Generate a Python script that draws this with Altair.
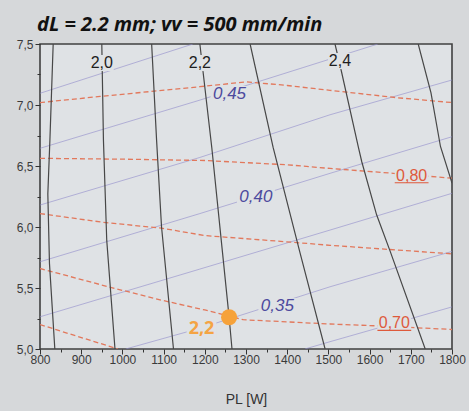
import altair as alt
import pandas as pd

# ---- solid contours (dark), level -> polyline in (PL [W], y) ----
black_levels = [1.9, 2.0, 2.1, 2.2, 2.3, 2.4, 2.5]
black_x = [
    [832, 824, 819, 823, 836],
    [950, 954, 962, 982],
    [1071, 1083, 1095, 1124],
    [1188, 1217, 1243, 1259, 1266],
    [1310, 1366, 1431, 1492],
    [1516, 1528, 1573, 1581, 1617, 1650, 1735],
    [1718, 1749, 1772, 1800],
]
black_y = [
    [7.5, 6.71, 6.27, 5.70, 5.0],
    [7.5, 6.71, 5.89, 5.0],
    [7.5, 6.71, 6.00, 5.0],
    [7.5, 6.65, 5.79, 5.26, 5.0],
    [7.5, 6.65, 5.79, 5.0],
    [7.5, 7.33, 6.65, 6.535, 6.10, 5.80, 5.0],
    [7.5, 7.10, 6.66, 6.36],
]

# ---- thin contours (blue) ----
blue_levels = [0.475, 0.45, 0.425, 0.40, 0.375, 0.35, 0.325]
blue_x = [
    [800, 1171],
    [800, 1188, 1620],
    [800, 1188, 1504, 1800],
    [800, 1188, 1504, 1800],
    [800, 1188, 1504, 1800],
    [1008, 1188, 1504, 1800],
    [1443, 1504, 1800],
]
blue_y = [
    [7.096, 7.5],
    [6.645, 7.04, 7.5],
    [6.18, 6.57, 6.92, 7.205],
    [5.715, 6.11, 6.44, 6.74],
    [5.264, 5.655, 5.975, 6.276],
    [5.0, 5.17, 5.51, 5.80],
    [5.0, 5.06, 5.345],
]

# ---- dashed contours (red) ----
red_levels = [0.85, 0.80, 0.75, 0.70, 0.65]
red_x = [
    [800, 946, 1188, 1302, 1400, 1504, 1666, 1800],
    [800, 1000, 1200, 1400, 1504, 1657, 1800],
    [800, 950, 1095, 1200, 1431, 1504, 1800],
    [800, 966, 1095, 1200, 1260, 1293, 1504, 1617, 1800],
    [800, 989],
]
red_y = [
    [7.02, 7.07, 7.15, 7.19, 7.16, 7.12, 7.06, 7.02],
    [6.563, 6.556, 6.545, 6.51, 6.48, 6.44, 6.40],
    [6.11, 6.04, 5.99, 5.93, 5.87, 5.85, 5.78],
    [5.66, 5.51, 5.40, 5.32, 5.27, 5.24, 5.205, 5.19, 5.16],
    [5.20, 5.0],
]

# ---- contour labels ----
black_lab_text = ["2,0", "2,2", "2,4"]
black_lab_x = [950, 1188, 1528]
black_lab_y = [7.344, 7.344, 7.36]

blue_lab_text = ["0,45", "0,40", "0,35"]
blue_lab_x = [1260, 1324, 1376]
blue_lab_y = [7.09, 6.25, 5.35]

red_lab_text = ["0,80", "0,70"]
red_lab_x = [1702, 1660]
red_lab_y = [6.42, 5.21]

# ---- operating point ----
pt_x = [1259]
pt_y = [5.26]
pt_text = ["2,2"]
pt_lab_x = [1192]
pt_lab_y = [5.16]

x_ticks = list(range(800, 1801, 50))
y_ticks = [5.0 + 0.25 * k for k in range(11)]

BG = "#d6d8da"
PLOT_BG = "#dfe2e5"


def lines_frame(levels, xs, ys):
    rows = []
    for lev, xr, yr in zip(levels, xs, ys):
        for i, (x, y) in enumerate(zip(xr, yr)):
            rows.append({"level": lev, "i": i, "PL": x, "v": y})
    return pd.DataFrame(rows)


def labels_frame(texts, xs, ys, half_w, half_h):
    df = pd.DataFrame({"t": texts, "PL": xs, "v": ys})
    df["x0"] = df["PL"] - half_w
    df["x1"] = df["PL"] + half_w
    df["y0"] = df["v"] - half_h
    df["y1"] = df["v"] + half_h
    return df


xscale = alt.Scale(domain=[800, 1800], nice=False, zero=False)
yscale = alt.Scale(domain=[5.0, 7.5], nice=False, zero=False)

x_axis = alt.Axis(
    values=x_ticks,
    title="PL [W]",
    titleFont="Liberation Sans",
    titleFontSize=14,
    titleFontWeight="normal",
    titleColor="#333333",
    titlePadding=27,
    labelExpr="datum.value % 100 === 0 ? datum.label : ''",
    labelFont="Liberation Sans",
    labelFontSize=12,
    labelColor="#3a3a3a",
    labelFlush=False,
    labelOverlap=False,
    labelPadding=0,
    tickColor="#333333",
    tickSize={"condition": {"test": "datum.value % 100 === 0", "value": 5}, "value": 3},
    domain=False,
    grid=False,
    format="d",
)
y_axis = alt.Axis(
    values=y_ticks,
    title=None,
    labelExpr="datum.value % 0.5 === 0 ? replace(format(datum.value, '.1f'), '.', ',') : ''",
    labelFont="Liberation Sans",
    labelFontSize=12,
    labelColor="#3a3a3a",
    labelFlush=False,
    labelOverlap=False,
    labelPadding=2,
    tickColor="#333333",
    tickSize={"condition": {"test": "datum.value % 0.5 === 0", "value": 5}, "value": 3},
    domain=False,
    grid=False,
)


def X(field="PL"):
    return alt.X(f"{field}:Q", scale=xscale, axis=x_axis)


def Y(field="v"):
    return alt.Y(f"{field}:Q", scale=yscale, axis=y_axis)


blue_df = lines_frame(blue_levels, blue_x, blue_y)
red_df = lines_frame(red_levels, red_x, red_y)
black_df = lines_frame(black_levels, black_x, black_y)

blue_lines = alt.Chart(blue_df).mark_line(
    color="#8f8bcb", strokeWidth=0.7, opacity=0.85, clip=True
).encode(x=X(), y=Y(), detail="level:N", order="i:Q")

red_lines = alt.Chart(red_df).mark_line(
    color="#e2785c", strokeWidth=1.3, strokeDash=[5, 3], clip=True
).encode(x=X(), y=Y(), detail="level:N", order="i:Q")

black_lines = alt.Chart(black_df).mark_line(
    color="#474747", strokeWidth=1.2, clip=True
).encode(x=X(), y=Y(), detail="level:N", order="i:Q")

black_lab = labels_frame(black_lab_text, black_lab_x, black_lab_y, 29, 0.066)
blue_lab = labels_frame(blue_lab_text, blue_lab_x, blue_lab_y, 46, 0.066)
red_lab = labels_frame(red_lab_text, red_lab_x, red_lab_y, 41, 0.057)
pt_lab = labels_frame(pt_text, pt_lab_x, pt_lab_y, 36, 0.074)

boxes_df = pd.concat([black_lab, blue_lab, red_lab, pt_lab], ignore_index=True)
boxes = alt.Chart(boxes_df).mark_rect(color=PLOT_BG).encode(
    x=X("x0"), x2="x1:Q", y=Y("y0"), y2="y1:Q"
)

black_text = alt.Chart(black_lab).mark_text(
    font="Liberation Sans", fontSize=16, color="#1e1e1e", baseline="middle"
).encode(x=X(), y=Y(), text="t:N")

blue_text = alt.Chart(blue_lab).mark_text(
    font="Liberation Sans", fontSize=17, fontStyle="italic", color="#4d4a9e", baseline="middle"
).encode(x=X(), y=Y(), text="t:N")

red_text = alt.Chart(red_lab).mark_text(
    font="Liberation Sans", fontSize=16, color="#de5a3c", baseline="middle"
).encode(x=X(), y=Y(), text="t:N")

red_under = alt.Chart(red_lab).mark_rule(
    color="#de5a3c", strokeWidth=1.2, yOffset=7
).encode(x=X("x0"), x2="x1:Q", y=Y())

pt_df = pd.DataFrame({"PL": pt_x, "v": pt_y})
point = alt.Chart(pt_df).mark_circle(size=260, color="#f6a23a", opacity=1).encode(
    x=X(), y=Y()
)

pt_text_mark = alt.Chart(pt_lab).mark_text(
    font="Open Sans", fontSize=18, fontWeight="bold", color="#f4a444", baseline="middle"
).encode(x=X(), y=Y(), text="t:N")

chart = (
    alt.layer(
        blue_lines, red_lines, black_lines, boxes,
        black_text, blue_text, red_text, red_under, point, pt_text_mark,
    )
    .properties(
        width=412,
        height=305,
        padding={"left": 40, "top": 44, "right": 17, "bottom": 62},
        autosize=alt.AutoSizeParams(type="none"),
        background=BG,
        title=alt.TitleParams(
            "dL = 2.2 mm; vv = 500 mm/min",
            anchor="start",
            frame="group",
            dx=-3,
            offset=3,
            font="Open Sans",
            fontSize=20,
            fontStyle="italic",
            fontWeight="bold",
            color="#111111",
        ),
    )
    .configure_view(fill=PLOT_BG, stroke="#404040", strokeWidth=1.6)
)

chart.save("out.html", embed_options={"renderer": "svg", "actions": False})
